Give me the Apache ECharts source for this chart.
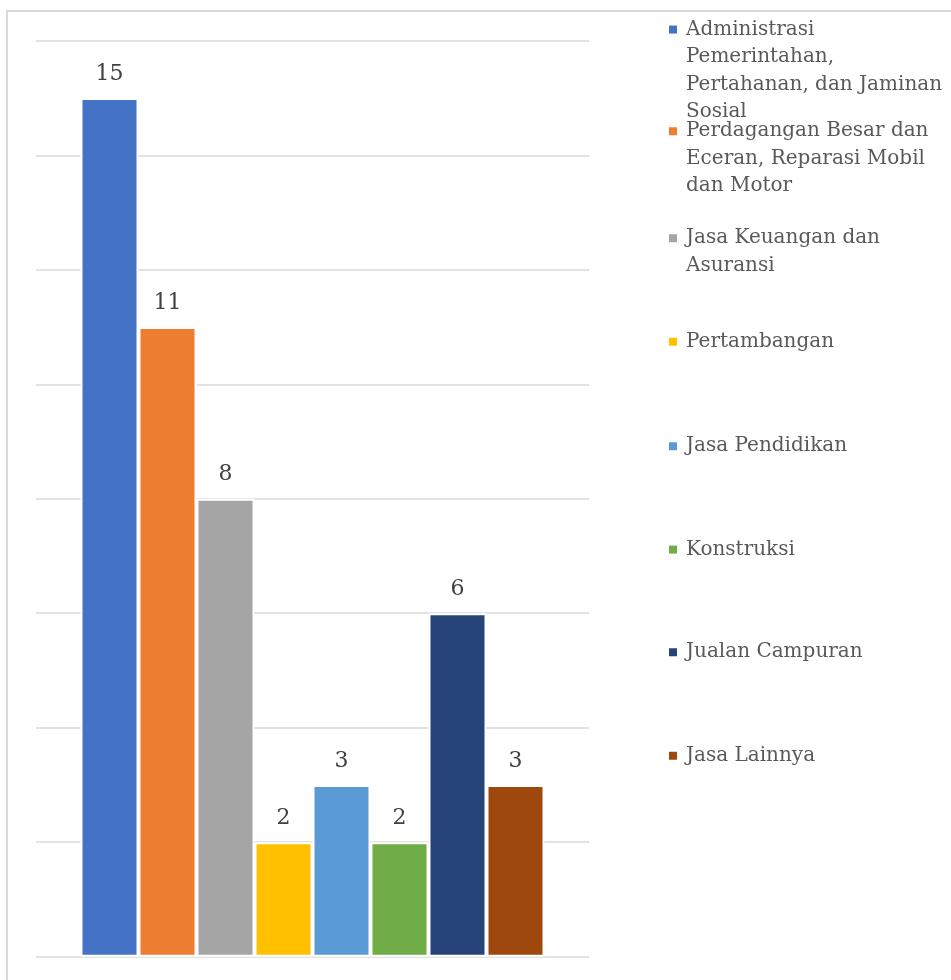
<!DOCTYPE html>
<html>
<head>
<meta charset="utf-8">
<script src="https://cdn.jsdelivr.net/npm/echarts@6/dist/echarts.min.js"></script>
<style>
  html, body { margin: 0; padding: 0; background: #fff; }
  #chart { width: 951px; height: 980px; }
</style>
</head>
<body>
<div id="chart"></div>
<script>
// Sectors (one bar series each) and their counts
const sectors = [
  'Administrasi Pemerintahan, Pertahanan, dan Jaminan Sosial',
  'Perdagangan Besar dan Eceran, Reparasi Mobil dan Motor',
  'Jasa Keuangan dan Asuransi',
  'Pertambangan',
  'Jasa Pendidikan',
  'Konstruksi',
  'Jualan Campuran',
  'Jasa Lainnya'
];
const counts = [15, 11, 8, 2, 3, 2, 6, 3];

// Legend text, wrapped line by line
const legendLines = [
  ['Administrasi', 'Pemerintahan,', 'Pertahanan, dan Jaminan', 'Sosial'],
  ['Perdagangan Besar dan', 'Eceran, Reparasi Mobil', 'dan Motor'],
  ['Jasa Keuangan dan', 'Asuransi'],
  ['Pertambangan'],
  ['Jasa Pendidikan'],
  ['Konstruksi'],
  ['Jualan Campuran'],
  ['Jasa Lainnya']
];

const palette = ['#4472C4', '#ED7D31', '#A5A5A5', '#FFC000', '#5B9BD5', '#70AD47', '#264478', '#9E480E'];

const FONT = 'DejaVu Serif';
const LINE_H = 27.5;
// vertical centre of each legend marker
const legendMarkerY = [28.3, 130, 237, 340.5, 445, 548.3, 651, 754.5];

const chart = echarts.init(document.getElementById('chart'), null, { renderer: 'canvas' });

const series = sectors.map((name, i) => ({
  name: name,
  type: 'bar',
  data: [counts[i]],
  barWidth: 58,
  barGap: '0%',
  itemStyle: { color: palette[i], borderColor: '#ffffff', borderWidth: 2 },
  label: {
    show: true,
    position: 'top',
    distance: 13,
    color: '#404040',
    fontFamily: FONT,
    fontSize: 22
  },
  emphasis: { disabled: true }
}));

const legends = sectors.map((name, i) => {
  const rich = {
    box: { width: 8, height: 8, backgroundColor: palette[i], lineHeight: LINE_H },
    gap: { width: 9, lineHeight: LINE_H },
    pad: { width: 17, lineHeight: LINE_H },
    t: { fontFamily: FONT, fontSize: 20, color: '#595959', lineHeight: LINE_H }
  };
  return {
    data: [name],
    orient: 'vertical',
    left: 664,
    top: legendMarkerY[i] - LINE_H / 2 + 5,
    padding: 0,
    icon: 'none',
    itemWidth: 0,
    itemHeight: 0,
    selectedMode: false,
    textStyle: { rich: rich },
    formatter: () => legendLines[i]
      .map((line, k) => (k === 0 ? '{box|}{gap|}' : '{pad|}') + '{t|' + line + '}')
      .join('\n')
  };
});

chart.setOption({
  backgroundColor: '#ffffff',
  animation: false,
  graphic: [{
    type: 'rect',
    shape: { x: 7, y: 11, width: 2000, height: 2000 },
    style: { fill: 'none', stroke: '#d9d9d9', lineWidth: 2 },
    silent: true
  }],
  grid: { left: 36, right: 362, top: 40.8, bottom: 23.3, containLabel: false },
  xAxis: {
    type: 'category',
    data: [''],
    axisLine: { show: false },
    axisTick: { show: false },
    axisLabel: { show: false }
  },
  yAxis: {
    type: 'value',
    min: 0,
    max: 16,
    interval: 2,
    axisLine: { show: false },
    axisTick: { show: false },
    axisLabel: { show: false },
    splitLine: { lineStyle: { color: '#d9d9d9', width: 1.5 } }
  },
  legend: legends,
  series: series
});
</script>
</body>
</html>
